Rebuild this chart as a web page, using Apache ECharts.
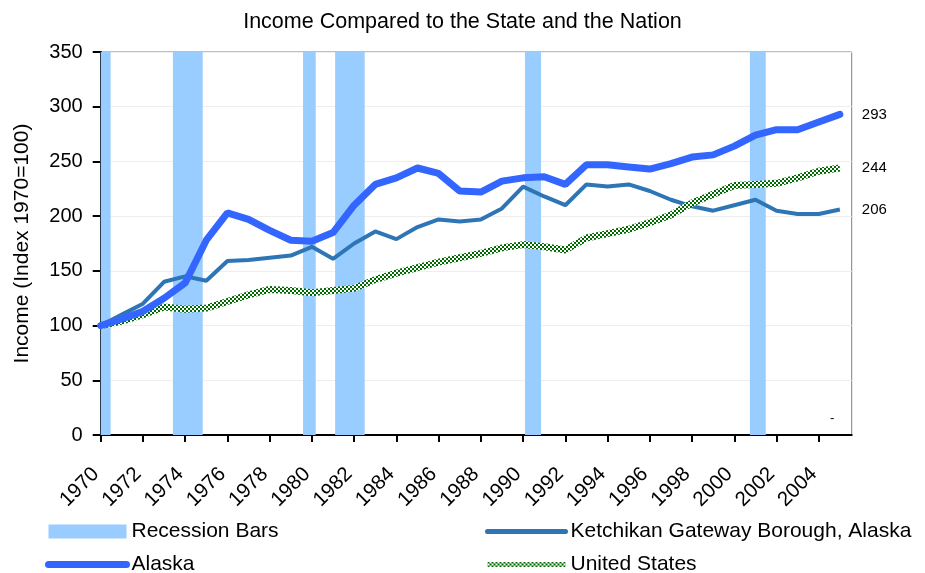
<!DOCTYPE html>
<html>
<head>
<meta charset="utf-8">
<script src="https://cdn.jsdelivr.net/npm/echarts@6/dist/echarts.min.js"></script>
<style>
  html, body { margin: 0; padding: 0; background: #fff; }
  #chart { width: 925px; height: 573px; }
</style>
</head>
<body>
<div id="chart"></div>
<script>
// data
var years = [1970, 1971, 1972, 1973, 1974, 1975, 1976, 1977, 1978, 1979,
             1980, 1981, 1982, 1983, 1984, 1985, 1986, 1987, 1988, 1989,
             1990, 1991, 1992, 1993, 1994, 1995, 1996, 1997, 1998, 1999,
             2000, 2001, 2002, 2003, 2004, 2005];
var alaska = [100, 106, 113, 125, 139, 178, 203, 197, 187, 178,
              177, 185, 210, 229, 235, 244, 239, 223, 222, 232,
              235, 236, 229, 247, 247, 245, 243, 248, 254, 256,
              264, 274, 279, 279, 286, 293];
var ketchikan = [100, 110, 120, 140, 145, 141, 159, 160, 162, 164,
                 172, 161, 175, 186, 179, 190, 197, 195, 197, 207,
                 227, 218, 210, 229, 227, 229, 223, 215, 209, 205,
                 210, 215, 205, 202, 202, 206];
var unitedStates = [100, 104, 110, 117, 115, 116, 122, 128, 133, 132,
                    130, 132, 134, 142, 148, 153, 158, 162, 166, 171,
                    174, 172, 169, 180, 184, 188, 194, 201, 212, 220,
                    228, 229, 230, 235, 241, 244];
var recessionStart = [1970, 1973.42, 1979.58, 1981.1, 1990.09, 2000.74];
var recessionEnd = [1970.47, 1974.83, 1980.18, 1982.5, 1990.85, 2001.49];
var yTicks = [0, 50, 100, 150, 200, 250, 300, 350];

var FONT = '"Liberation Sans", Arial, sans-serif';

function pairs(vals) {
    var out = [];
    for (var i = 0; i < years.length; i++) {
        out.push([years[i], vals[i]]);
    }
    return out;
}

var recessionData = [];
for (var i = 0; i < recessionStart.length; i++) {
    recessionData.push([recessionStart[i], recessionEnd[i]]);
}

// green / white checker for the US line
function checker() {
    var c = document.createElement('canvas');
    c.width = 4;
    c.height = 4;
    var ctx = c.getContext('2d');
    ctx.fillStyle = '#ffffff';
    ctx.fillRect(0, 0, 4, 4);
    ctx.fillStyle = '#006a00';
    ctx.fillRect(0, 0, 2, 2);
    ctx.fillRect(2, 2, 2, 2);
    return c;
}
var usPattern = { image: checker(), repeat: 'repeat' };

var yMin = yTicks[0];
var yMax = yTicks[yTicks.length - 1];

var chart = echarts.init(document.getElementById('chart'), null, { renderer: 'canvas' });

var endLabel = {
    show: true,
    color: '#000',
    fontFamily: FONT,
    fontSize: 15,
    distance: 22,
    formatter: function (p) { return p.value[1]; }
};

// hide the circle ECharts puts on line legend icons
var noDot = { opacity: 0 };

var legendBase = {
    orient: 'vertical',
    top: 521,
    height: 70,
    padding: 0,
    itemWidth: 78,
    itemHeight: 14,
    itemGap: 12,
    textStyle: { fontFamily: FONT, fontSize: 21, lineHeight: 21, color: '#000' }
};

var option = {
    animation: false,
    backgroundColor: '#fff',
    title: {
        text: 'Income Compared to the State and the Nation',
        left: 'center',
        top: 6,
        textStyle: { fontFamily: FONT, fontSize: 21.5, fontWeight: 'normal', color: '#000' }
    },
    grid: {
        left: 100.7,
        right: 73.3,
        top: 52,
        bottom: 138,
        show: true,
        borderColor: '#808080',
        borderWidth: 1
    },
    legend: [
        echarts.util.merge({
            left: 45,
            data: [
                { name: 'Recession Bars', icon: 'rect' },
                { name: 'Alaska', itemStyle: noDot, lineStyle: { width: 7, cap: 'round' } }
            ]
        }, legendBase),
        echarts.util.merge({
            left: 485,
            data: [
                { name: 'Ketchikan Gateway Borough, Alaska', itemStyle: noDot, lineStyle: { width: 5, cap: 'round' } },
                { name: 'United States', itemStyle: noDot, lineStyle: { width: 5 } }
            ]
        }, legendBase)
    ],
    xAxis: {
        type: 'value',
        min: 1970,
        max: 2005.56,
        interval: 2,
        splitLine: { show: false },
        axisLine: { lineStyle: { color: '#000', width: 2 } },
        axisTick: { length: 7, lineStyle: { color: '#000', width: 2 } },
        axisLabel: {
            rotate: 45,
            margin: 31,
            padding: [0, 7, 0, 0],
            fontFamily: FONT,
            fontSize: 20.5,
            color: '#000',
            showMaxLabel: false,
            formatter: function (v) {
                return (v % 2 === 0 && v <= 2004) ? String(v) : '';
            }
        }
    },
    yAxis: {
        type: 'value',
        min: yMin,
        max: yMax,
        interval: 50,
        name: 'Income (Index 1970=100)',
        nameLocation: 'middle',
        nameGap: 68,
        nameTextStyle: { fontFamily: FONT, fontSize: 21, color: '#000' },
        axisLine: { show: true, lineStyle: { color: '#000', width: 2 } },
        axisTick: { show: true, length: 8, lineStyle: { color: '#000', width: 2 } },
        axisLabel: { margin: 18, fontFamily: FONT, fontSize: 20, color: '#000' },
        splitLine: { lineStyle: { color: '#eeeeee', width: 1 } }
    },
    series: [{
        name: 'Recession Bars',
        type: 'custom',
        z: 1,
        itemStyle: { color: '#99ccff' },
        encode: { x: [0, 1] },
        data: recessionData,
        renderItem: function (params, api) {
            var topLeft = api.coord([api.value(0), yMax]);
            var bottomRight = api.coord([api.value(1), yMin]);
            return {
                type: 'rect',
                shape: {
                    x: topLeft[0],
                    y: topLeft[1],
                    width: bottomRight[0] - topLeft[0],
                    height: bottomRight[1] - topLeft[1]
                },
                style: api.style()
            };
        }
    }, {
        name: 'Ketchikan Gateway Borough, Alaska',
        type: 'line',
        z: 3,
        symbol: 'none',
        color: '#2e75b6',
        lineStyle: { width: 4, color: '#2e75b6' },
        endLabel: endLabel,
        data: pairs(ketchikan)
    }, {
        name: 'United States',
        type: 'line',
        z: 4,
        symbol: 'none',
        color: '#008000',
        lineStyle: { width: 7, color: usPattern },
        endLabel: endLabel,
        data: pairs(unitedStates)
    }, {
        name: 'Alaska',
        type: 'line',
        z: 5,
        symbol: 'none',
        color: '#3366ff',
        lineStyle: { width: 7, color: '#3366ff', cap: 'round' },
        endLabel: endLabel,
        data: pairs(alaska)
    }],
    graphic: [{
        type: 'text',
        left: 830,
        top: 412,
        style: { text: '-', fontFamily: FONT, fontSize: 13, fill: '#000' }
    }]
};

chart.setOption(option);
</script>
</body>
</html>
